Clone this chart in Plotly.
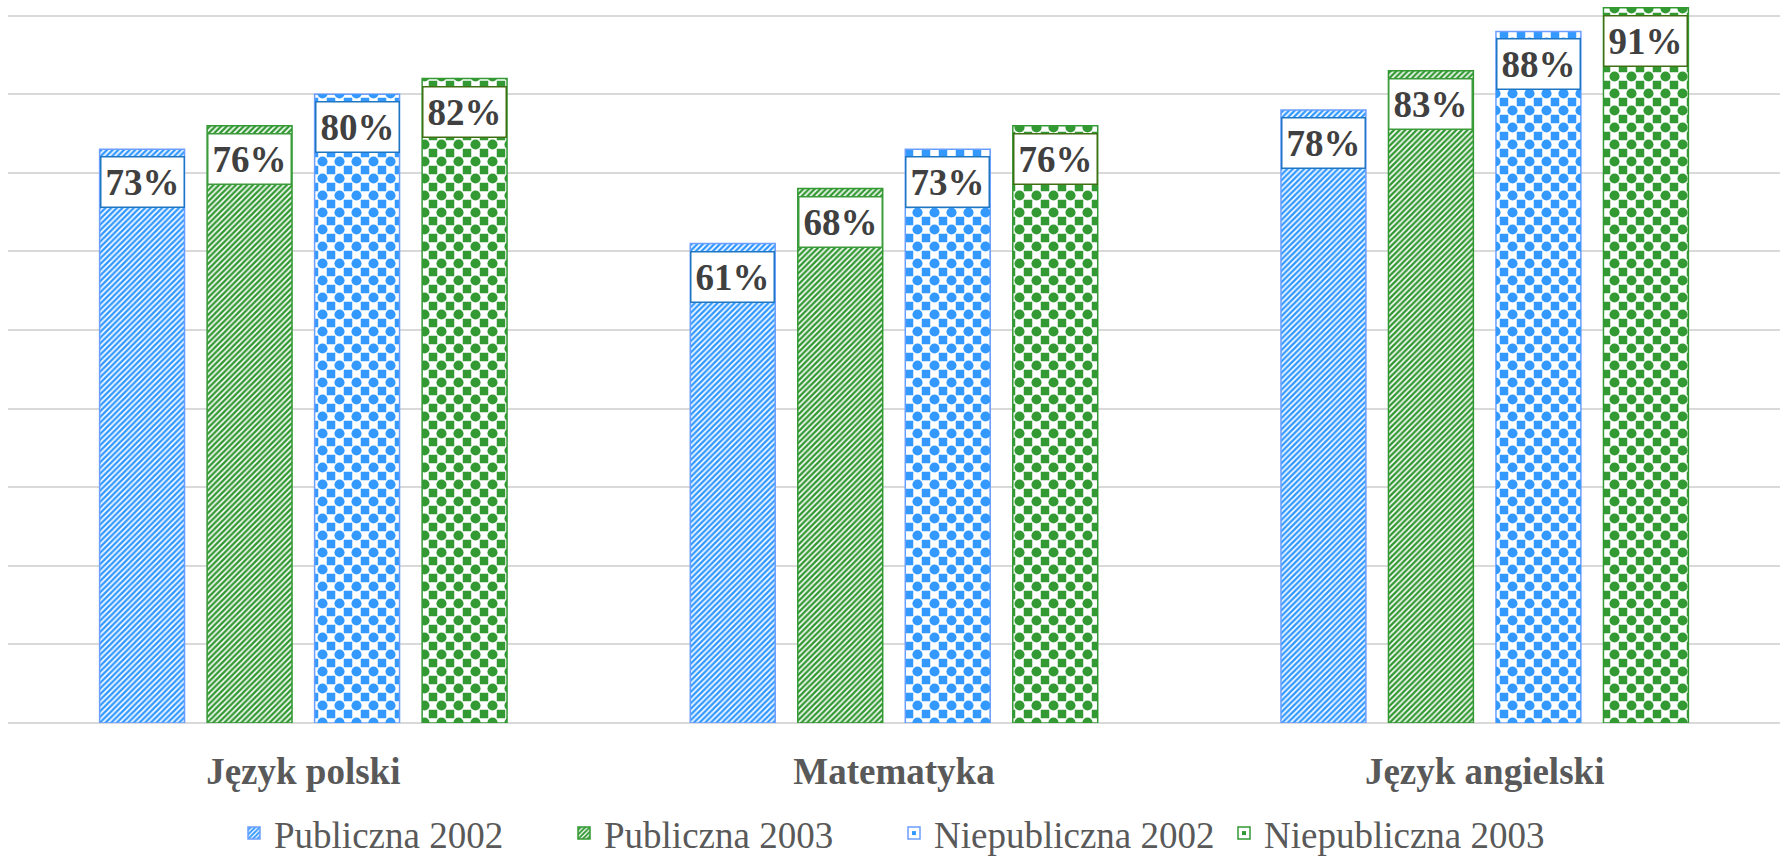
import plotly.graph_objects as go

# ---- data ----
categories = ["Język polski", "Matematyka", "Język angielski"]
series_names = ["Publiczna 2002", "Publiczna 2003", "Niepubliczna 2002", "Niepubliczna 2003"]
publiczna_2002 = [0.73, 0.61, 0.78]
publiczna_2003 = [0.76, 0.68, 0.83]
niepubliczna_2002 = [0.80, 0.73, 0.88]
niepubliczna_2003 = [0.82, 0.76, 0.91]
series_values = [publiczna_2002, publiczna_2003, niepubliczna_2002, niepubliczna_2003]

# ---- styles ----
BLUE = "#3399FF"
GREEN = "#339933"
CLEAR = "rgba(0,0,0,0)"
FONT = "Liberation Serif, Times New Roman, serif"
CHECK = 17  # checker period (px)
styles = [
    dict(kind="hatch", color=BLUE, line="#6B9EFF", box="#1F77C4"),
    dict(kind="hatch", color=GREEN, line=GREEN, box="#3C9C3C"),
    dict(kind="check", color=BLUE, line="#6B9EFF", box="#1F77C4"),
    dict(kind="check", color=GREEN, line=GREEN, box="#3F6F12"),
]

BARGAP = 0.272
BARGROUPGAP = 0.21
n_series = len(series_names)
slot = (1 - BARGAP) / n_series
bar_w = slot * (1 - BARGROUPGAP)

fig = go.Figure()
annotations = []
for k, (name, vals, st) in enumerate(zip(series_names, series_values, styles)):
    offset = (k - n_series / 2) * slot + (slot - bar_w) / 2
    if st["kind"] == "hatch":
        pat = dict(shape="/", fgcolor=st["color"], bgcolor="white", size=4, solidity=0.6, fillmode="replace")
    else:
        # squares at even cells
        pat = dict(shape="+", fgcolor="white", bgcolor=st["color"], size=CHECK, solidity=0.75, fillmode="replace")
    fig.add_trace(go.Bar(
        x=categories, y=vals, name=name, offset=offset, width=bar_w,
        marker=dict(color=st["color"], pattern=pat, line=dict(color=st["line"], width=1.5)),
        hoverinfo="skip", legendrank=k,
    ))
    if st["kind"] == "check":
        # fill the odd cells to complete the checkerboard
        fig.add_trace(go.Bar(
            x=categories, y=vals, name=name, offset=offset, width=bar_w, showlegend=False,
            marker=dict(color=CLEAR, line=dict(width=0),
                        pattern=dict(shape=".", fgcolor=st["color"], bgcolor=CLEAR,
                                     size=CHECK, solidity=0.28, fillmode="replace")),
            hoverinfo="skip",
        ))
    for i, v in enumerate(vals):
        annotations.append(dict(
            x=i + (k - (n_series - 1) / 2) * slot, y=v, xref="x", yref="y",
            text=f"<b>{round(v * 100)}%</b>", showarrow=False,
            yanchor="top", yshift=-7,
            font=dict(family=FONT, size=37, color="#404040"),
            bgcolor="white", bordercolor=st["box"], borderwidth=1.5, borderpad=4,
        ))

fig.update_layout(
    width=1787, height=865,
    margin=dict(l=8, r=7, t=0, b=137),
    paper_bgcolor="white", plot_bgcolor="white",
    barmode="overlay",
    showlegend=True,
    legend=dict(orientation="h", x=0.5, xanchor="center", y=-0.11, yanchor="top",
                font=dict(family=FONT, size=37, color="#595959"),
                entrywidth=285, entrywidthmode="pixels",
                itemclick=False, itemdoubleclick=False),
    annotations=annotations,
    xaxis=dict(type="category", showgrid=False, showline=False, zeroline=False,
               ticks="outside", ticklen=16, tickcolor=CLEAR,
               tickfont=dict(family=FONT, size=37, color="#595959", weight="bold")),
    yaxis=dict(range=[0, 0.92], dtick=0.1, showticklabels=False, showgrid=True,
               gridcolor="#D9D9D9", gridwidth=2, zeroline=True, zerolinecolor="#D9D9D9",
               zerolinewidth=2, showline=False),
)

fig.write_html("out.html", config={"displayModeBar": False},
               post_script="document.body.style.margin='0';")
